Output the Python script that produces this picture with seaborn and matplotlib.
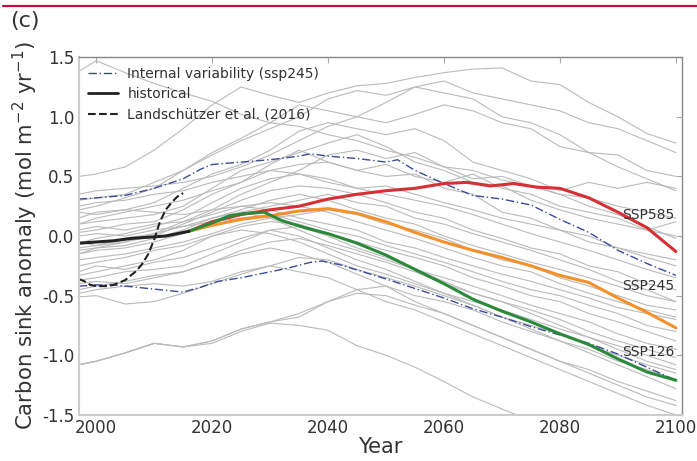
import numpy as np
import pandas as pd
import matplotlib
matplotlib.use("Agg")
import matplotlib.pyplot as plt
from matplotlib.lines import Line2D
import seaborn as sns

# ---------------------------------------------------------------- data
# Ensemble members (ssp245), sampled every five years
member_years = [1997, 2000, 2005, 2010, 2015, 2020, 2025, 2030, 2035, 2040, 2045,
                2050, 2055, 2060, 2065, 2070, 2075, 2080, 2085, 2090, 2095, 2100]
members = [
    [1.38, 1.47, 1.37, 1.28, 1.20, 1.13, 1.02, 0.95, 0.92, 0.85, 0.80, 0.72, 0.66, 0.58, 0.55, 0.47, 0.42, 0.35, 0.25, 0.18, 0.08, -0.02],
    [0.50, 0.52, 0.58, 0.72, 0.90, 1.10, 1.25, 1.18, 1.12, 1.20, 1.26, 1.28, 1.33, 1.37, 1.40, 1.41, 1.30, 1.27, 1.12, 1.00, 0.86, 0.78],
    [0.22, 0.25, 0.32, 0.40, 0.55, 0.70, 0.82, 0.95, 1.10, 1.05, 1.00, 1.12, 1.25, 1.20, 1.15, 1.00, 0.95, 0.85, 0.70, 0.68, 0.55, 0.50],
    [0.15, 0.20, 0.22, 0.28, 0.40, 0.52, 0.60, 0.72, 0.88, 0.95, 0.90, 0.85, 0.90, 0.80, 0.62, 0.55, 0.48, 0.38, 0.45, 0.40, 0.45, 0.40],
    [0.10, 0.12, 0.15, 0.18, 0.25, 0.40, 0.55, 0.62, 0.70, 0.78, 0.85, 0.75, 0.62, 0.55, 0.45, 0.42, 0.30, 0.22, 0.15, 0.10, 0.05, 0.12],
    [0.03, 0.05, 0.10, 0.12, 0.22, 0.35, 0.45, 0.55, 0.60, 0.62, 0.55, 0.50, 0.52, 0.40, 0.35, 0.20, 0.15, 0.05, 0.00, -0.10, -0.15, -0.20],
    [-0.06, -0.02, 0.02, 0.08, 0.15, 0.28, 0.40, 0.48, 0.52, 0.48, 0.40, 0.35, 0.30, 0.25, 0.18, 0.10, 0.02, -0.05, -0.12, -0.20, -0.28, -0.35],
    [-0.10, -0.08, -0.05, 0.00, 0.10, 0.20, 0.30, 0.38, 0.42, 0.40, 0.35, 0.28, 0.20, 0.15, 0.05, -0.02, -0.10, -0.15, -0.25, -0.30, -0.40, -0.45],
    [-0.15, -0.10, -0.08, -0.02, 0.05, 0.15, 0.22, 0.30, 0.35, 0.30, 0.22, 0.15, 0.10, 0.00, -0.08, -0.15, -0.22, -0.28, -0.35, -0.42, -0.50, -0.55],
    [0.05, 0.08, 0.05, 0.10, 0.12, 0.18, 0.25, 0.28, 0.25, 0.20, 0.12, 0.05, -0.02, -0.10, -0.18, -0.25, -0.30, -0.40, -0.48, -0.55, -0.62, -0.68],
    [0.20, 0.18, 0.22, 0.20, 0.18, 0.22, 0.25, 0.22, 0.15, 0.10, 0.05, -0.05, -0.10, -0.18, -0.25, -0.32, -0.38, -0.45, -0.52, -0.60, -0.65, -0.70],
    [-0.05, -0.08, -0.02, 0.02, 0.08, 0.12, 0.15, 0.18, 0.12, 0.05, 0.00, -0.08, -0.15, -0.22, -0.30, -0.38, -0.45, -0.50, -0.58, -0.65, -0.75, -0.80],
    [-0.33, -0.30, -0.25, -0.20, -0.12, 0.00, 0.08, 0.12, 0.10, 0.02, -0.05, -0.12, -0.18, -0.25, -0.35, -0.42, -0.50, -0.55, -0.65, -0.72, -0.80, -0.88],
    [-0.37, -0.35, -0.30, -0.28, -0.25, -0.15, -0.05, 0.05, 0.08, 0.00, -0.10, -0.18, -0.28, -0.35, -0.42, -0.50, -0.58, -0.65, -0.72, -0.82, -0.90, -0.95],
    [-0.45, -0.42, -0.38, -0.33, -0.30, -0.22, -0.12, -0.05, -0.02, -0.08, -0.15, -0.22, -0.30, -0.40, -0.48, -0.55, -0.62, -0.70, -0.80, -0.88, -0.95, -1.02],
    [-0.51, -0.50, -0.57, -0.55, -0.48, -0.40, -0.32, -0.25, -0.18, -0.20, -0.28, -0.35, -0.42, -0.50, -0.58, -0.68, -0.75, -0.82, -0.92, -1.00, -1.08, -1.15],
    [-1.08, -1.05, -0.98, -0.90, -0.93, -0.88, -0.78, -0.72, -0.65, -0.55, -0.45, -0.42, -0.50, -0.55, -0.62, -0.72, -0.80, -0.88, -0.95, -1.05, -1.12, -1.20],
    [-1.08, -1.05, -0.98, -0.90, -0.93, -0.90, -0.80, -0.73, -0.75, -0.79, -0.92, -1.00, -1.10, -1.22, -1.35, -1.45, -1.55, -1.62, -1.70, -1.78, -1.85, -1.92],
    [-0.30, -0.25, -0.28, -0.22, -0.18, -0.10, -0.02, 0.05, 0.00, -0.10, -0.20, -0.28, -0.38, -0.48, -0.58, -0.68, -0.78, -0.88, -0.98, -1.08, -1.18, -1.28],
    [0.00, 0.02, 0.00, 0.05, 0.08, 0.15, 0.20, 0.15, 0.05, -0.05, -0.12, -0.20, -0.28, -0.38, -0.48, -0.55, -0.65, -0.75, -0.85, -0.95, -1.05, -1.12],
    [-0.20, -0.18, -0.15, -0.10, -0.05, 0.02, 0.10, 0.15, 0.18, 0.22, 0.18, 0.10, 0.05, -0.02, -0.12, -0.20, -0.25, -0.35, -0.42, -0.50, -0.58, -0.62],
    [0.25, 0.28, 0.30, 0.35, 0.38, 0.45, 0.50, 0.55, 0.52, 0.45, 0.40, 0.42, 0.35, 0.28, 0.22, 0.15, 0.10, 0.05, -0.05, -0.10, -0.18, -0.25],
    [0.10, 0.15, 0.20, 0.25, 0.30, 0.38, 0.45, 0.60, 0.72, 0.62, 0.55, 0.60, 0.50, 0.45, 0.52, 0.40, 0.35, 0.25, 0.20, 0.15, 0.05, 0.00],
    [-0.12, -0.10, -0.05, 0.02, 0.12, 0.22, 0.35, 0.45, 0.55, 0.68, 0.72, 0.65, 0.70, 0.58, 0.48, 0.50, 0.42, 0.35, 0.32, 0.25, 0.20, 0.15],
    [-0.40, -0.38, -0.40, -0.35, -0.30, -0.22, -0.15, -0.10, -0.15, -0.22, -0.32, -0.42, -0.55, -0.65, -0.75, -0.85, -0.95, -1.05, -1.15, -1.25, -1.35, -1.42],
    [-0.48, -0.45, -0.42, -0.40, -0.42, -0.38, -0.30, -0.25, -0.30, -0.35, -0.45, -0.55, -0.62, -0.72, -0.82, -0.92, -1.02, -1.12, -1.22, -1.32, -1.42, -1.50],
    [0.35, 0.38, 0.40, 0.42, 0.45, 0.50, 0.58, 0.68, 0.80, 0.92, 1.00, 0.95, 1.02, 1.10, 1.05, 0.95, 0.90, 0.75, 0.70, 0.58, 0.48, 0.38],
    [-0.25, -0.22, -0.18, -0.12, -0.08, 0.00, 0.05, 0.02, -0.05, -0.15, -0.25, -0.32, -0.40, -0.48, -0.55, -0.62, -0.70, -0.78, -0.85, -0.92, -1.00, -1.08],
    [-0.15, -0.12, -0.10, -0.05, 0.02, 0.10, 0.20, 0.25, 0.30, 0.35, 0.28, 0.25, 0.15, 0.10, 0.02, -0.05, -0.12, -0.20, -0.28, -0.38, -0.45, -0.55],
    [-1.08, -1.05, -0.98, -0.90, -0.93, -0.88, -0.78, -0.72, -0.68, -0.55, -0.48, -0.50, -0.58, -0.65, -0.75, -0.85, -0.95, -1.05, -1.12, -1.22, -1.30, -1.38],
    [0.30, 0.32, 0.35, 0.45, 0.55, 0.68, 0.80, 0.90, 1.00, 1.15, 1.22, 1.18, 1.25, 1.30, 1.20, 1.15, 1.10, 1.05, 0.95, 0.90, 0.80, 0.70],
]

# Internal variability envelope (ssp245)
iv_years = [1997, 2000, 2005, 2010, 2015, 2018, 2020, 2025, 2030, 2035, 2037, 2040, 2045,
            2050, 2052, 2055, 2060, 2065, 2070, 2075, 2080, 2085, 2090, 2095, 2100]
iv_upper = [0.31, 0.32, 0.34, 0.40, 0.48, 0.56, 0.60, 0.62, 0.64, 0.67, 0.69, 0.67, 0.65,
            0.62, 0.64, 0.55, 0.44, 0.34, 0.31, 0.26, 0.14, 0.03, -0.12, -0.23, -0.33]
iv_lower_years = [1997, 2000, 2003, 2007, 2011, 2015, 2018, 2021, 2025, 2029, 2033, 2037, 2039,
                  2042, 2046, 2050, 2055, 2060, 2065, 2070, 2075, 2080, 2085, 2090, 2095, 2100]
iv_lower = [-0.42, -0.41, -0.41, -0.43, -0.45, -0.47, -0.43, -0.38, -0.35, -0.31, -0.27, -0.22, -0.21,
            -0.24, -0.30, -0.36, -0.44, -0.52, -0.61, -0.68, -0.76, -0.83, -0.90, -0.99, -1.10, -1.21]

# Multi-model means
hist_years = [1997, 2000, 2003, 2006, 2009, 2012, 2014, 2016]
hist = [-0.06, -0.05, -0.04, -0.02, -0.01, 0.00, 0.02, 0.04]

obs_years = list(range(1997, 2016))
obs = [-0.36, -0.38, -0.41, -0.42, -0.42, -0.42, -0.41, -0.39, -0.37, -0.33,
       -0.29, -0.23, -0.15, -0.03, 0.12, 0.22, 0.28, 0.33, 0.36]

ssp585_years = [2016, 2020, 2025, 2030, 2035, 2040, 2045, 2050, 2055, 2060, 2064, 2068,
                2072, 2076, 2080, 2085, 2090, 2095, 2100]
ssp585 = [0.04, 0.12, 0.18, 0.22, 0.25, 0.31, 0.35, 0.38, 0.40, 0.44, 0.45, 0.42,
          0.44, 0.41, 0.40, 0.32, 0.20, 0.07, -0.13]

ssp245_years = [2016, 2020, 2025, 2030, 2035, 2040, 2045, 2050, 2055, 2060, 2065, 2070,
                2075, 2080, 2085, 2090, 2095, 2100]
ssp245 = [0.04, 0.09, 0.14, 0.17, 0.21, 0.23, 0.19, 0.12, 0.03, -0.05, -0.12, -0.18,
          -0.25, -0.33, -0.39, -0.52, -0.64, -0.77]

ssp126_years = [2016, 2020, 2023, 2026, 2029, 2032, 2036, 2040, 2045, 2050, 2055, 2060,
                2065, 2070, 2075, 2080, 2085, 2090, 2095, 2100]
ssp126 = [0.04, 0.11, 0.17, 0.19, 0.20, 0.13, 0.07, 0.02, -0.06, -0.16, -0.28, -0.40,
          -0.53, -0.63, -0.72, -0.82, -0.91, -1.03, -1.14, -1.21]

scenario_labels = ["SSP585", "SSP245", "SSP126"]
label_pos = [(2095.3, 0.18), (2095.3, -0.42), (2095.3, -0.97)]

# ---------------------------------------------------------------- figure
sns.set_style("white")
plt.rcParams["font.family"] = ["DejaVu Sans"]

fig = plt.figure(figsize=(6.97, 4.61), dpi=100)
ax = fig.add_axes([0.113, 0.100, 0.865, 0.776])

ens = pd.DataFrame(
    [(i, y, v) for i, row in enumerate(members) for y, v in zip(member_years, row)],
    columns=["member", "year", "value"],
)
sns.lineplot(data=ens, x="year", y="value", units="member", estimator=None,
             color="#bababa", lw=0.8, ax=ax, legend=False)

sns.lineplot(x=iv_years, y=iv_upper, color="#3b4a9c", lw=1.0, ax=ax)
sns.lineplot(x=iv_lower_years, y=iv_lower, color="#3b4a9c", lw=1.0, ax=ax)
for ln in ax.lines[-2:]:
    ln.set_dashes([6, 2, 1, 2])

sns.lineplot(x=ssp585_years, y=ssp585, color="#d62f35", lw=2.2, ax=ax)
sns.lineplot(x=ssp245_years, y=ssp245, color="#f5902a", lw=2.2, ax=ax)
sns.lineplot(x=ssp126_years, y=ssp126, color="#2a8a3a", lw=2.2, ax=ax)
sns.lineplot(x=hist_years, y=hist, color="#222222", lw=2.2, ax=ax)
sns.lineplot(x=obs_years, y=obs, color="#222222", lw=1.5, ls="--", ax=ax)

for text, (x, y) in zip(scenario_labels, label_pos):
    ax.text(x, y, text, ha="center", va="center", fontsize=10, color="#333333")

ax.set_xlim(1997, 2101)
ax.set_ylim(-1.5, 1.5)
ax.set_xticks([2000, 2020, 2040, 2060, 2080, 2100])
ax.set_yticks([-1.5, -1.0, -0.5, 0.0, 0.5, 1.0, 1.5])
ax.yaxis.set_major_formatter(matplotlib.ticker.FormatStrFormatter("%.1f"))
ax.tick_params(axis="both", labelsize=12, labelcolor="#333333", direction="in",
               length=4, color="#aaaaaa", top=True, right=True, pad=3)
ax.set_xlabel("Year", fontsize=15, color="#333333", labelpad=0)
ax.set_ylabel("Carbon sink anomaly (mol m$^{-2}$ yr$^{-1}$)", fontsize=15.3,
              color="#333333", labelpad=2)

for side in ["left", "bottom"]:
    ax.spines[side].set_color("#cccccc")
    ax.spines[side].set_linewidth(1.5)
for side in ["top", "right"]:
    ax.spines[side].set_color("#888888")
    ax.spines[side].set_linewidth(1.0)

handles = [
    Line2D([], [], color="#3b4a9c", lw=1.0, dashes=[6, 2, 1, 2]),
    Line2D([], [], color="#222222", lw=2.0),
    Line2D([], [], color="#222222", lw=1.5, ls="--"),
]
ax.legend(handles, ["Internal variability (ssp245)", "historical",
                    "Landschützer et al. (2016)"],
          loc="upper left", frameon=False, fontsize=10, handlelength=2.1,
          handletextpad=0.7, borderaxespad=0.3, labelspacing=0.45,
          labelcolor="#333333")

fig.text(0.015, 0.955, "(c)", fontsize=16, color="#333333", va="center")
fig.add_artist(Line2D([0.004, 1.0], [0.987, 0.987], transform=fig.transFigure,
                      color="#c0103a", lw=1.6))

fig.savefig("out.png", dpi=100)
